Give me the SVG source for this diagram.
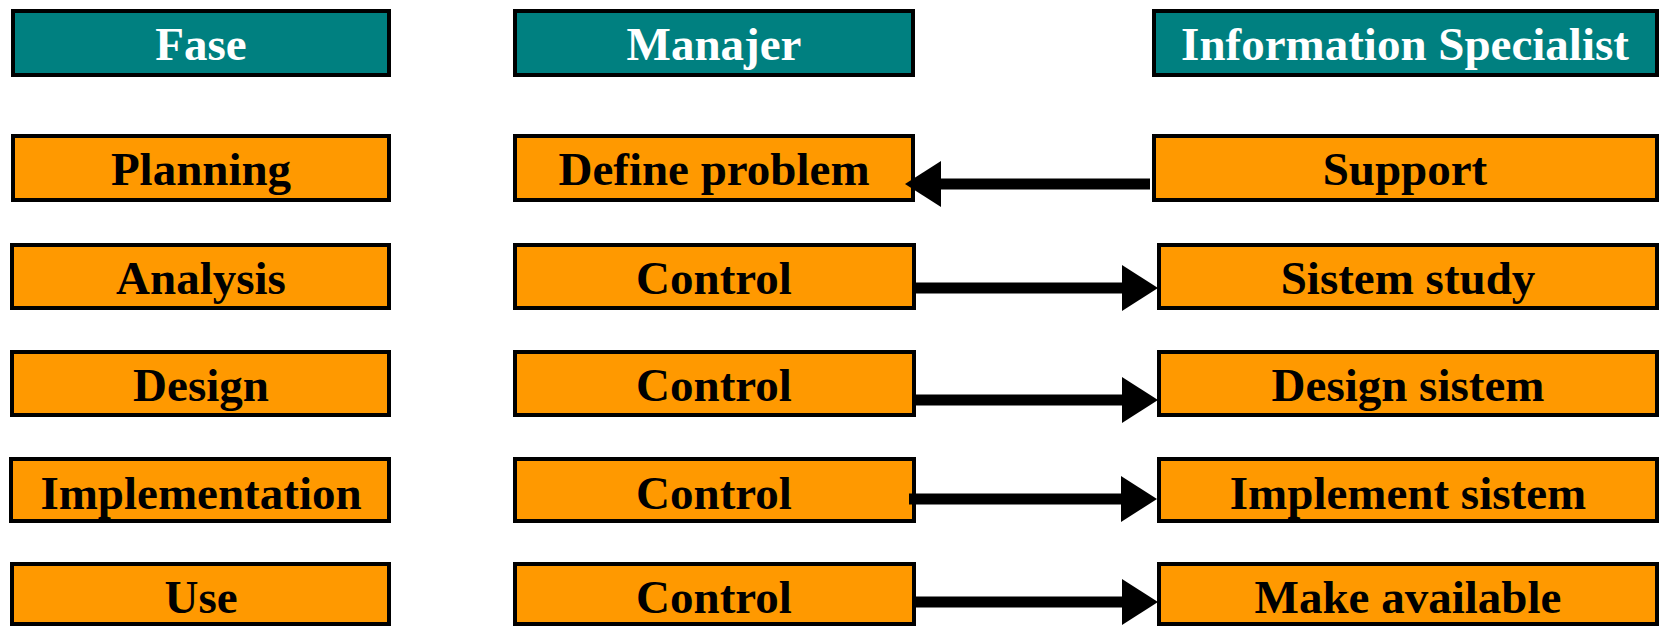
<svg xmlns="http://www.w3.org/2000/svg" width="1667" height="626" viewBox="0 0 1667 626">
<style>
.hd{fill:#008080;stroke:#000;stroke-width:4}
.bx{fill:#FF9900;stroke:#000;stroke-width:4}
text{font-family:"Liberation Serif","Times New Roman",serif;font-weight:bold;font-size:47px;text-anchor:middle}
.ht{fill:#fff}
.bt{fill:#000}
.cn{stroke:#000;stroke-width:11;fill:none}
</style>
<defs>
<marker id="ah" markerUnits="userSpaceOnUse" markerWidth="37" markerHeight="47" refX="0" refY="23" orient="auto" overflow="visible">
<path d="M0,0 L36,23 L0,46 Z" fill="#000"/>
</marker>
</defs>
<rect width="1667" height="626" fill="#fff"/>
<g id="h-fase"><rect class="hd" x="13" y="11" width="376" height="64"/><text class="ht" x="201" y="60">Fase</text></g>
<g id="h-manajer"><rect class="hd" x="515" y="11" width="398" height="64"/><text class="ht" x="714" y="60">Manajer</text></g>
<g id="h-info"><rect class="hd" x="1154" y="11" width="503" height="64"/><text class="ht" x="1405" y="60">Information Specialist</text></g>

<g id="f-planning"><rect class="bx" x="13" y="136" width="376" height="64"/><text class="bt" x="201" y="185">Planning</text></g>
<g id="m-define"><rect class="bx" x="515" y="136" width="398" height="64"/><text class="bt" x="714" y="185">Define problem</text></g>
<g id="i-support"><rect class="bx" x="1154" y="136" width="503" height="64"/><text class="bt" x="1405" y="185">Support</text></g>

<g id="f-analysis"><rect class="bx" x="12" y="245" width="377" height="63"/><text class="bt" x="201" y="294">Analysis</text></g>
<g id="m-control1"><rect class="bx" x="515" y="245" width="399" height="63"/><text class="bt" x="714" y="294">Control</text></g>
<g id="i-study"><rect class="bx" x="1159" y="245" width="498" height="63"/><text class="bt" x="1408" y="294">Sistem study</text></g>

<g id="f-design"><rect class="bx" x="12" y="352" width="377" height="63"/><text class="bt" x="201" y="401">Design</text></g>
<g id="m-control2"><rect class="bx" x="515" y="352" width="399" height="63"/><text class="bt" x="714" y="401">Control</text></g>
<g id="i-design"><rect class="bx" x="1159" y="352" width="498" height="63"/><text class="bt" x="1408" y="401">Design sistem</text></g>

<g id="f-impl"><rect class="bx" x="11" y="459" width="378" height="62"/><text class="bt" x="201" y="509">Implementation</text></g>
<g id="m-control3"><rect class="bx" x="515" y="459" width="399" height="62"/><text class="bt" x="714" y="509">Control</text></g>
<g id="i-impl"><rect class="bx" x="1159" y="459" width="498" height="62"/><text class="bt" x="1408" y="509">Implement sistem</text></g>

<g id="f-use"><rect class="bx" x="12" y="564" width="377" height="60"/><text class="bt" x="201" y="613">Use</text></g>
<g id="m-control4"><rect class="bx" x="515" y="564" width="399" height="60"/><text class="bt" x="714" y="613">Control</text></g>
<g id="i-make"><rect class="bx" x="1159" y="564" width="498" height="60"/><text class="bt" x="1408" y="613">Make available</text></g>

<g id="connectors">
<line class="cn" x1="1150" y1="184" x2="941" y2="184" marker-end="url(#ah)"/>
<line class="cn" x1="914" y1="288" x2="1122" y2="288" marker-end="url(#ah)"/>
<line class="cn" x1="914" y1="400" x2="1122" y2="400" marker-end="url(#ah)"/>
<line class="cn" x1="909" y1="499" x2="1121" y2="499" marker-end="url(#ah)"/>
<line class="cn" x1="914" y1="602" x2="1122" y2="602" marker-end="url(#ah)"/>
</g>
</svg>
